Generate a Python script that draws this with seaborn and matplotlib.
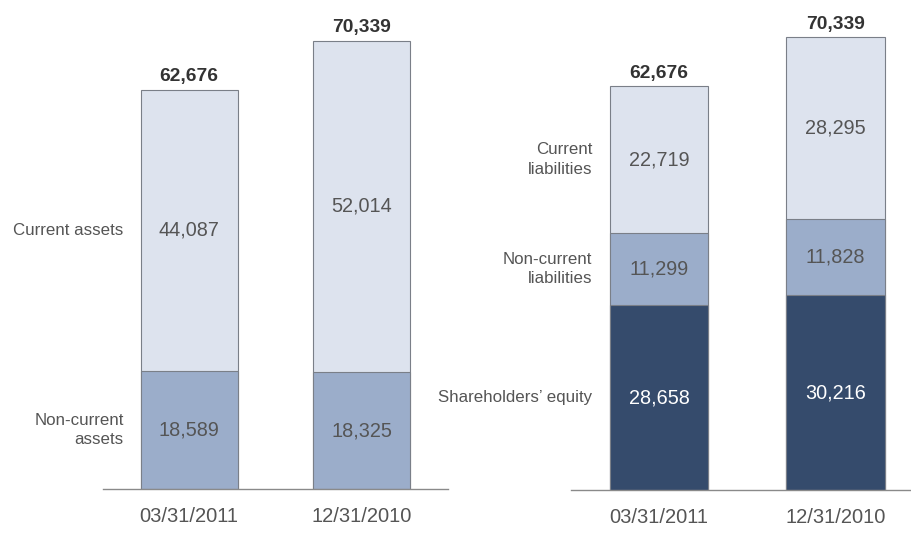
import matplotlib
matplotlib.use("Agg")
import matplotlib.pyplot as plt
import seaborn as sns
import pandas as pd

# Balance sheet data (in thousands)
dates = ["03/31/2011", "12/31/2010"]

current_assets = [44087, 52014]
non_current_assets = [18589, 18325]
total_assets = [62676, 70339]

shareholders_equity = [28658, 30216]
non_current_liabilities = [11299, 11828]
current_liabilities = [22719, 28295]
total_liabilities = [62676, 70339]

asset_labels = ["Non-current\nassets", "Current assets"]
liability_labels = ["Shareholders\u2019 equity", "Non-current\nliabilities", "Current\nliabilities"]

LIGHT = "#dde3ee"
MID = "#9badca"
DARK = "#354b6c"
EDGE = "#7a7f88"
TEXT = "#555555"

sns.set_theme(style="white")
plt.rcParams["font.family"] = ["Liberation Sans", "DejaVu Sans"]

fig = plt.figure(figsize=(9.11, 5.45), dpi=100)
ax_l = fig.add_axes([103 / 911, 56 / 545, 345 / 911, 478 / 545])
ax_r = fig.add_axes([571 / 911, 55 / 545, 340 / 911, 483 / 545])

BAR_W = 0.56


def stacked(ax, segments, colors, text_colors, seg_labels, totals):
    # cumulative heights, drawn from the tallest down so each layer overlays
    cums = []
    run = [0] * len(dates)
    for seg in segments:
        run = [r + v for r, v in zip(run, seg)]
        cums.append(list(run))
    for cum, col in reversed(list(zip(cums, colors))):
        df = pd.DataFrame({"date": dates, "value": cum})
        sns.barplot(data=df, x="date", y="value", color=col, width=BAR_W,
                    edgecolor=EDGE, linewidth=0.8, saturation=1, ax=ax)
    # value labels centred in each segment
    base = [0] * len(dates)
    for seg, tc in zip(segments, text_colors):
        for i, v in enumerate(seg):
            ax.text(i, base[i] + v / 2, f"{v:,}", ha="center", va="center",
                    fontsize=14.3, color=tc)
        base = [b + v for b, v in zip(base, seg)]
    # bold totals on top
    for i, t in enumerate(totals):
        ax.text(i, t + 700, f"{t:,}", ha="center", va="bottom",
                fontsize=13.8, fontweight="bold", color="#333333")
    # row labels beside the first bar
    base = 0
    for seg, lab in zip(segments, seg_labels):
        ax.text(-0.38, base + seg[0] / 2, lab, ha="right", va="center",
                fontsize=12.2, color=TEXT, linespacing=1.35)
        base += seg[0]

    ax.set_ylim(0, 75000)
    ax.set_xlabel("")
    ax.set_ylabel("")
    ax.set_yticks([])
    for s in ["top", "left", "right"]:
        ax.spines[s].set_visible(False)
    ax.spines["bottom"].set_color("#8a8a8a")
    ax.spines["bottom"].set_linewidth(1.0)
    ax.tick_params(axis="x", length=0, pad=13, labelsize=14.5, labelcolor=TEXT)
    ax.patch.set_alpha(0)


stacked(ax_l, [non_current_assets, current_assets], [MID, LIGHT],
        [TEXT, TEXT], asset_labels, total_assets)
ax_l.set_xlim(-0.5, 1.5)

stacked(ax_r, [shareholders_equity, non_current_liabilities, current_liabilities],
        [DARK, MID, LIGHT], ["white", TEXT, TEXT], liability_labels, total_liabilities)
ax_r.set_xlim(-0.5, 1.43)

fig.savefig("out.png", dpi=100)
